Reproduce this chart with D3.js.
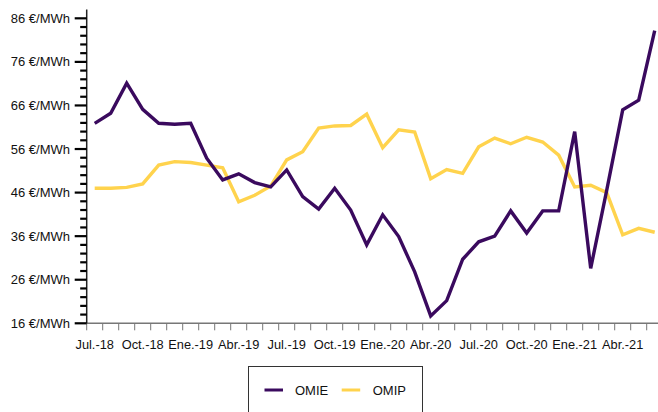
<!DOCTYPE html>
<html><head><meta charset="utf-8">
<script src="https://cdn.jsdelivr.net/npm/d3@7/dist/d3.min.js"></script>
<style>
body{margin:0;background:#fff;}
svg{display:block;font-family:"Liberation Sans",Arial,sans-serif;}
</style></head>
<body><svg id="c" width="658" height="412"></svg>
<script>
const categories = ["Jul.-18","Ago.-18","Sep.-18","Oct.-18","Nov.-18","Dic.-18",
"Ene.-19","Feb.-19","Mar.-19","Abr.-19","May.-19","Jun.-19",
"Jul.-19","Ago.-19","Sep.-19","Oct.-19","Nov.-19","Dic.-19",
"Ene.-20","Feb.-20","Mar.-20","Abr.-20","May.-20","Jun.-20",
"Jul.-20","Ago.-20","Sep.-20","Oct.-20","Nov.-20","Dic.-20",
"Ene.-21","Feb.-21","Mar.-21","Abr.-21","May.-21","Jun.-21"];
const omie = [61.9,64.2,71.1,65.1,61.9,61.7,61.9,53.9,48.9,50.3,48.3,47.3,
51.2,45.1,42.2,47.0,42.0,34.0,40.9,35.9,27.8,17.7,21.2,30.7,
34.7,36.0,41.8,36.7,41.8,41.8,60.0,28.6,46.5,65.0,67.2,83.2];
const omip = [47.0,47.0,47.2,48.0,52.3,53.1,52.9,52.3,51.7,43.9,45.4,47.5,
53.5,55.4,60.8,61.3,61.4,64.0,56.3,60.4,59.9,49.2,51.3,50.4,
56.5,58.5,57.2,58.7,57.6,54.6,47.3,47.7,46.0,36.3,37.8,36.9];
const yTickValues = [16,26,36,46,56,66,76,86];
const seriesNames = ["OMIE","OMIP"];
const colors = ["#3a0a5e","#ffd34d"];

const svg = d3.select("#c");
const x0 = 86.7, step = 16;
const x = d3.scaleBand().domain(categories).range([x0, x0 + step*categories.length]).paddingInner(0).paddingOuter(0);
const y = d3.scaleLinear().domain([16,88]).range([323.3, 9.6]);

// x axis
const xa = svg.append("g");
xa.append("line").attr("x1", x0).attr("x2", 658).attr("y1", y(16)).attr("y2", y(16))
  .attr("stroke","#777").attr("stroke-width",1.5);
categories.forEach((c,i)=>{
  xa.append("line").attr("x1", x(c)).attr("x2", x(c)).attr("y1", y(16)).attr("y2", y(16)+7)
    .attr("stroke","#777").attr("stroke-width",1);
  if(i%3===0){
    xa.append("text").attr("x", x(c)+x.bandwidth()/2).attr("y", y(16)+26)
      .attr("text-anchor","middle").attr("font-size","12.8px").attr("fill","#111").text(c);
  }
});

// y axis
const ya = svg.append("g");
ya.append("line").attr("x1", x0).attr("x2", x0).attr("y1", y(88)).attr("y2", y(16))
  .attr("stroke","#222").attr("stroke-width",1.5);
d3.range(16, 87, 2).forEach(v=>{
  const major = yTickValues.includes(v);
  ya.append("line").attr("x1", x0 - (major?12:6.5)).attr("x2", x0).attr("y1", y(v)).attr("y2", y(v))
    .attr("stroke","#000").attr("stroke-width",2.2);
});
yTickValues.forEach(v=>{
  ya.append("text").attr("x", 70).attr("y", y(v)).attr("dy","0.35em")
    .attr("text-anchor","end").attr("font-size","13px").attr("fill","#111").text(v+" €/MWh");
});

// lines
const line = d3.line().x((d,i)=>x(categories[i])+x.bandwidth()/2).y(d=>y(d)).curve(d3.curveLinear);
[omip, omie].forEach((s,k)=>{
  svg.append("path").datum(s).attr("d", line).attr("fill","none")
    .attr("stroke", k===0?colors[1]:colors[0]).attr("stroke-width",3.4)
    .attr("stroke-linejoin","miter").attr("stroke-linecap","butt");
});

// legend
const lg = svg.append("g");
lg.append("rect").attr("x",248.5).attr("y",366.5).attr("width",174).attr("height",60)
  .attr("fill","#fff").attr("stroke","#333").attr("stroke-width",1);
const items = [{n:seriesNames[0],c:colors[0],lx:264.5,tx:295},{n:seriesNames[1],c:colors[1],lx:341.7,tx:372.7}];
items.forEach(it=>{
  lg.append("line").attr("x1",it.lx).attr("x2",it.lx+18.5).attr("y1",390).attr("y2",390)
    .attr("stroke",it.c).attr("stroke-width",3);
  lg.append("text").attr("x",it.tx).attr("y",390).attr("dy","0.35em").attr("font-size","13px")
    .attr("fill","#111").text(it.n);
});
</script></body></html>
